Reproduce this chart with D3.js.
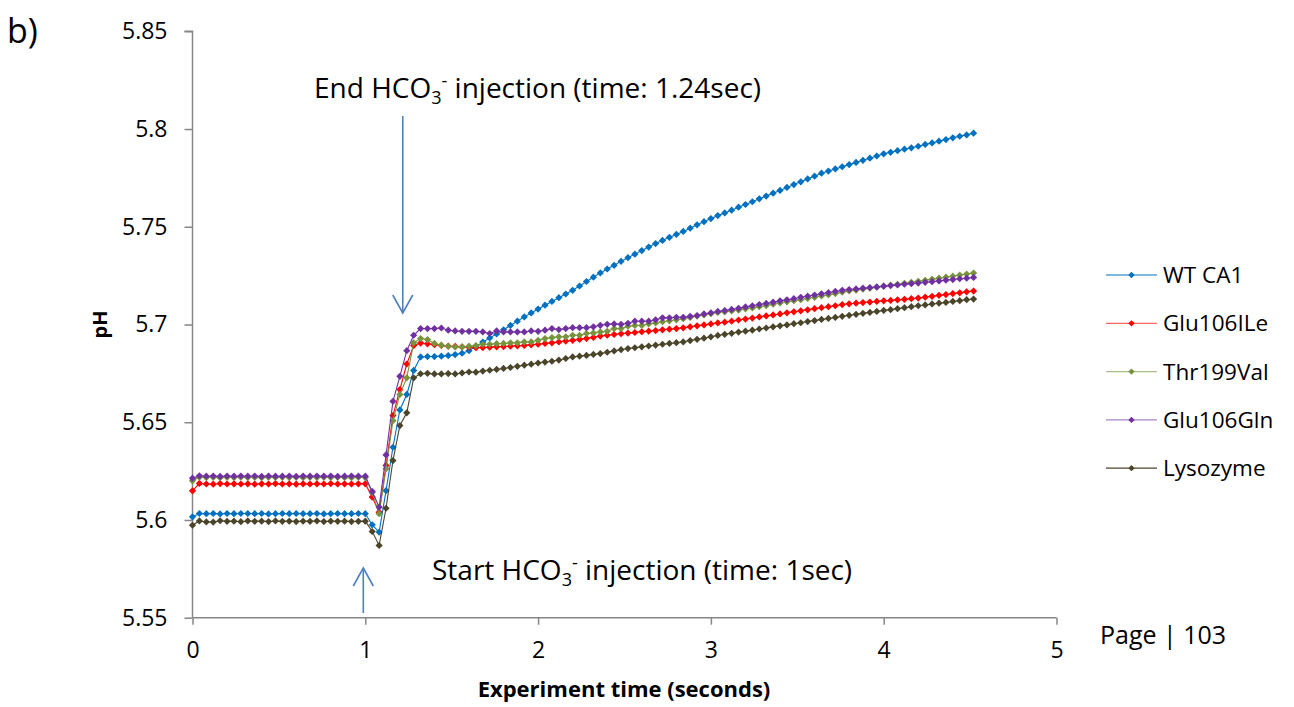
<!DOCTYPE html>
<html>
<head>
<meta charset="utf-8">
<script src="https://cdn.jsdelivr.net/npm/d3@7"></script>
<style>
  body { margin: 0; background: #fff; }
  svg { display: block; font-family: "Open Sans", Lato, sans-serif; }
</style>
</head>
<body>
<svg id="chart" width="1294" height="707"></svg>
<script>
// Experiment time (s), one reading every 0.04 s
const times = [
  0, 0.04, 0.08, 0.12, 0.16, 0.2, 0.24, 0.28, 0.32, 0.36, 0.4, 0.44, 0.48, 0.52, 0.56, 0.6, 0.64, 0.68, 0.72, 0.76, 0.8, 0.84, 0.88, 0.92, 0.96, 1,
  1.04, 1.08, 1.12, 1.16, 1.2, 1.24, 1.28, 1.32, 1.36, 1.4, 1.44, 1.48, 1.52, 1.56, 1.6, 1.64, 1.68, 1.72, 1.76, 1.8, 1.84, 1.88, 1.92, 1.96, 2,
  2.04, 2.08, 2.12, 2.16, 2.2, 2.24, 2.28, 2.32, 2.36, 2.4, 2.44, 2.48, 2.52, 2.56, 2.6, 2.64, 2.68, 2.72, 2.76, 2.8, 2.84, 2.88, 2.92, 2.96, 3,
  3.04, 3.08, 3.12, 3.16, 3.2, 3.24, 3.28, 3.32, 3.36, 3.4, 3.44, 3.48, 3.52, 3.56, 3.6, 3.64, 3.68, 3.72, 3.76, 3.8, 3.84, 3.88, 3.92, 3.96, 4,
  4.04, 4.08, 4.12, 4.16, 4.2, 4.24, 4.28, 4.32, 4.36, 4.4, 4.44, 4.48, 4.52
];

const wtCA1 = [
  5.6016, 5.6033, 5.6032, 5.6033, 5.6031, 5.6033, 5.6032, 5.6033, 5.6033, 5.6032, 5.6033, 5.6031, 5.6032, 5.6033, 5.6032, 5.6033, 5.6032, 5.6032, 5.6033, 5.6031, 5.6032, 5.6033, 5.6032, 5.6032, 5.6033, 5.6032,
  5.5975, 5.5938, 5.6150, 5.6372, 5.6563, 5.6642, 5.6765, 5.6834, 5.6836, 5.6836, 5.6838, 5.6841, 5.6846, 5.6853, 5.6866, 5.6888, 5.6910, 5.6931, 5.6952, 5.6973, 5.6995, 5.7017, 5.7039, 5.7059, 5.7079,
  5.7099, 5.7118, 5.7137, 5.7156, 5.7175, 5.7197, 5.7220, 5.7242, 5.7264, 5.7284, 5.7303, 5.7323, 5.7342, 5.7360, 5.7378, 5.7396, 5.7414, 5.7430, 5.7446, 5.7461, 5.7476, 5.7493, 5.7510, 5.7526, 5.7542,
  5.7557, 5.7571, 5.7585, 5.7600, 5.7614, 5.7628, 5.7643, 5.7657, 5.7672, 5.7686, 5.7701, 5.7716, 5.7730, 5.7745, 5.7759, 5.7774, 5.7785, 5.7796, 5.7807, 5.7818, 5.7829, 5.7840, 5.7851, 5.7862, 5.7873,
  5.7881, 5.7889, 5.7897, 5.7904, 5.7912, 5.7921, 5.7929, 5.7938, 5.7946, 5.7955, 5.7963, 5.7970, 5.7979
];

const glu106ILe = [
  5.6149, 5.6187, 5.6184, 5.6183, 5.6186, 5.6184, 5.6185, 5.6184, 5.6185, 5.6183, 5.6185, 5.6184, 5.6186, 5.6184, 5.6185, 5.6183, 5.6185, 5.6184, 5.6185, 5.6184, 5.6186, 5.6184, 5.6185, 5.6184, 5.6185, 5.6185,
  5.6117, 5.6040, 5.6279, 5.6534, 5.6667, 5.6798, 5.6892, 5.6905, 5.6901, 5.6897, 5.6893, 5.6889, 5.6888, 5.6885, 5.6884, 5.6881, 5.6882, 5.6884, 5.6886, 5.6887, 5.6889, 5.6891, 5.6893, 5.6896, 5.6899,
  5.6903, 5.6906, 5.6911, 5.6915, 5.6919, 5.6924, 5.6929, 5.6934, 5.6941, 5.6945, 5.6949, 5.6953, 5.6956, 5.6959, 5.6963, 5.6966, 5.6969, 5.6973, 5.6976, 5.6979, 5.6983, 5.6988, 5.6993, 5.6998, 5.7003,
  5.7008, 5.7012, 5.7017, 5.7023, 5.7028, 5.7033, 5.7039, 5.7044, 5.7049, 5.7054, 5.7060, 5.7065, 5.7070, 5.7075, 5.7081, 5.7086, 5.7091, 5.7096, 5.7102, 5.7106, 5.7109, 5.7112, 5.7115, 5.7118, 5.7121,
  5.7123, 5.7126, 5.7129, 5.7132, 5.7135, 5.7140, 5.7144, 5.7149, 5.7153, 5.7158, 5.7162, 5.7167, 5.7171
];

const thr199Val = [
  5.6200, 5.6219, 5.6217, 5.6218, 5.6216, 5.6218, 5.6217, 5.6219, 5.6217, 5.6218, 5.6216, 5.6218, 5.6217, 5.6218, 5.6217, 5.6218, 5.6216, 5.6218, 5.6217, 5.6218, 5.6217, 5.6218, 5.6217, 5.6216, 5.6218, 5.6217,
  5.6140, 5.6032, 5.6262, 5.6508, 5.6642, 5.6727, 5.6906, 5.6928, 5.6923, 5.6903, 5.6894, 5.6889, 5.6885, 5.6885, 5.6889, 5.6892, 5.6899, 5.6899, 5.6902, 5.6903, 5.6906, 5.6906, 5.6911, 5.6911, 5.6919,
  5.6928, 5.6933, 5.6937, 5.6937, 5.6945, 5.6945, 5.6954, 5.6957, 5.6962, 5.6965, 5.6979, 5.6979, 5.6991, 5.6995, 5.6995, 5.7003, 5.7008, 5.7014, 5.7019, 5.7024, 5.7030, 5.7036, 5.7043, 5.7049, 5.7055,
  5.7062, 5.7065, 5.7069, 5.7074, 5.7080, 5.7085, 5.7091, 5.7097, 5.7104, 5.7110, 5.7116, 5.7122, 5.7127, 5.7133, 5.7139, 5.7146, 5.7152, 5.7158, 5.7165, 5.7172, 5.7176, 5.7181, 5.7186, 5.7191, 5.7196,
  5.7201, 5.7206, 5.7211, 5.7216, 5.7221, 5.7226, 5.7232, 5.7237, 5.7242, 5.7247, 5.7253, 5.7258, 5.7263
];

const glu106Gln = [
  5.6214, 5.6226, 5.6224, 5.6225, 5.6223, 5.6225, 5.6224, 5.6225, 5.6224, 5.6225, 5.6223, 5.6225, 5.6224, 5.6224, 5.6225, 5.6223, 5.6225, 5.6224, 5.6225, 5.6224, 5.6225, 5.6223, 5.6224, 5.6225, 5.6224, 5.6224,
  5.6146, 5.6066, 5.6333, 5.6607, 5.6735, 5.6866, 5.6945, 5.6979, 5.6979, 5.6979, 5.6982, 5.6971, 5.6967, 5.6965, 5.6965, 5.6965, 5.6962, 5.6954, 5.6967, 5.6962, 5.6962, 5.6962, 5.6962, 5.6967, 5.6965,
  5.6971, 5.6979, 5.6974, 5.6979, 5.6984, 5.6984, 5.6984, 5.6988, 5.6996, 5.7001, 5.7003, 5.7001, 5.7006, 5.7017, 5.7017, 5.7017, 5.7024, 5.7034, 5.7034, 5.7037, 5.7037, 5.7042, 5.7046, 5.7054, 5.7060,
  5.7067, 5.7071, 5.7077, 5.7083, 5.7090, 5.7096, 5.7102, 5.7108, 5.7114, 5.7121, 5.7126, 5.7132, 5.7139, 5.7145, 5.7151, 5.7157, 5.7163, 5.7169, 5.7175, 5.7179, 5.7182, 5.7186, 5.7189, 5.7192, 5.7196,
  5.7199, 5.7202, 5.7206, 5.7209, 5.7212, 5.7216, 5.7219, 5.7223, 5.7227, 5.7230, 5.7234, 5.7237, 5.7241
];

const lysozyme = [
  5.5973, 5.5995, 5.5990, 5.5989, 5.5996, 5.5993, 5.5994, 5.5991, 5.5995, 5.5993, 5.5994, 5.5992, 5.5995, 5.5993, 5.5994, 5.5992, 5.5994, 5.5993, 5.5995, 5.5992, 5.5994, 5.5993, 5.5994, 5.5992, 5.5993, 5.5994,
  5.5941, 5.5870, 5.6060, 5.6304, 5.6483, 5.6548, 5.6727, 5.6748, 5.6750, 5.6747, 5.6747, 5.6749, 5.6747, 5.6752, 5.6757, 5.6756, 5.6762, 5.6766, 5.6770, 5.6775, 5.6780, 5.6786, 5.6792, 5.6797, 5.6803,
  5.6808, 5.6812, 5.6818, 5.6826, 5.6834, 5.6838, 5.6842, 5.6847, 5.6851, 5.6858, 5.6865, 5.6871, 5.6877, 5.6881, 5.6886, 5.6890, 5.6894, 5.6899, 5.6903, 5.6907, 5.6911, 5.6918, 5.6924, 5.6930, 5.6937,
  5.6944, 5.6950, 5.6955, 5.6961, 5.6966, 5.6971, 5.6977, 5.6982, 5.6988, 5.6993, 5.6998, 5.7004, 5.7009, 5.7015, 5.7020, 5.7026, 5.7031, 5.7036, 5.7042, 5.7047, 5.7052, 5.7057, 5.7062, 5.7067, 5.7072,
  5.7076, 5.7081, 5.7086, 5.7091, 5.7096, 5.7100, 5.7105, 5.7109, 5.7113, 5.7118, 5.7122, 5.7127, 5.7130
];

const seriesNames = ['WT CA1', 'Glu106ILe', 'Thr199Val', 'Glu106Gln', 'Lysozyme'];
const seriesValues = [wtCA1, glu106ILe, thr199Val, glu106Gln, lysozyme];
const seriesColors = ['#0070C0', '#FF0000', '#77933C', '#7030A0', '#4A452A'];

const xTicks = [0, 1, 2, 3, 4, 5];
const yTicks = [5.55, 5.6, 5.65, 5.7, 5.75, 5.8, 5.85];

// injection times (s)
const startInjection = 1;
const endInjection = 1.24;

const svg = d3.select('#chart');
const axisGrey = '#868686';

const x = d3.scaleLinear().domain([0, 5]).range([192.5, 1056.5]);
const y = d3.scaleLinear().domain([5.55, 5.85]).range([617.7, 31.3]);

// Axes
const yAxis = svg.append('g')
  .attr('transform', `translate(${x(0)},0)`)
  .call(d3.axisLeft(y).tickValues(yTicks).tickFormat(d => String(d)).tickSize(8).tickPadding(17));
const xAxis = svg.append('g')
  .attr('transform', `translate(0,${y(5.55)})`)
  .call(d3.axisBottom(x).tickValues(xTicks).tickFormat(d => String(d)).tickSize(7).tickPadding(17));

[yAxis, xAxis].forEach(g => {
  g.select('.domain').attr('stroke', axisGrey).attr('stroke-width', 1.5);
  g.selectAll('.tick line').attr('stroke', axisGrey).attr('stroke-width', 1.5);
  g.selectAll('.tick text').attr('fill', '#000').attr('font-size', 23).attr('font-family', '"Open Sans", sans-serif');
});
yAxis.select('.domain').attr('d', `M-8,${y(5.85)}H0V${y(5.55)}`);
xAxis.select('.domain').attr('d', `M${x(0)},0H${x(5)}`);

// Axis titles
svg.append('text')
  .attr('transform', `translate(107,${y(5.7)}) rotate(-90)`)
  .attr('text-anchor', 'middle')
  .attr('font-size', 20).attr('font-weight', 'bold')
  .text('pH');
svg.append('text')
  .attr('x', 624).attr('y', 697)
  .attr('text-anchor', 'middle')
  .attr('font-size', 22).attr('font-weight', 'bold')
  .text('Experiment time (seconds)');

svg.append('text').attr('x', 7).attr('y', 43).attr('font-size', 34).text('b)');
svg.append('text').attr('x', 1100).attr('y', 644).attr('font-size', 25).text('Page | 103');

// Series lines and diamond markers
const line = d3.line().x((d, i) => x(times[i])).y(d => y(d));
const diamond = d3.symbol().type(d3.symbolSquare).size(26);

seriesValues.forEach((values, s) => {
  const g = svg.append('g');
  g.append('path')
    .datum(values)
    .attr('d', line)
    .attr('fill', 'none')
    .attr('stroke', seriesColors[s])
    .attr('stroke-width', 1.1);
  g.selectAll('path.pt')
    .data(values)
    .enter()
    .append('path')
    .attr('class', 'pt')
    .attr('d', diamond)
    .attr('transform', (d, i) => `translate(${x(times[i])},${y(d)}) rotate(45)`)
    .attr('fill', seriesColors[s]);
});

// Injection arrows
const arrowBlue = '#4F81BD';
const drawArrow = (xPos, yTail, yHead) => {
  const dir = yHead > yTail ? -1 : 1;
  svg.append('line')
    .attr('x1', xPos).attr('x2', xPos).attr('y1', yTail).attr('y2', yHead)
    .attr('stroke', arrowBlue).attr('stroke-width', 1.6);
  svg.append('path')
    .attr('d', `M${xPos - 10},${yHead + dir * 18}L${xPos},${yHead}L${xPos + 10},${yHead + dir * 18}`)
    .attr('fill', 'none').attr('stroke', arrowBlue).attr('stroke-width', 1.6);
};
drawArrow(x(endInjection) - 4, 116, 313);
drawArrow(x(startInjection) - 2, 613, 568);

// Annotation text with HCO3- formula
const annotate = (xPos, yPos, before, after) => {
  const t = svg.append('text').attr('x', xPos).attr('y', yPos).attr('font-size', 28);
  t.append('tspan').text(before + 'HCO');
  t.append('tspan').attr('font-size', 18).attr('dy', 6).text('3');
  t.append('tspan').attr('font-size', 18).attr('dy', -17).text('-');
  t.append('tspan').attr('dy', 11).text(' ' + after);
};
annotate(314, 98, 'End ', 'injection (time: 1.24sec)');
annotate(432, 580, 'Start ', 'injection (time: 1sec)');

// Legend
const legend = svg.append('g');
seriesNames.forEach((name, s) => {
  const ly = 275 + s * 48.3;
  legend.append('line')
    .attr('x1', 1106).attr('x2', 1157).attr('y1', ly).attr('y2', ly)
    .attr('stroke', seriesColors[s]).attr('stroke-width', 1.2).attr('stroke-opacity', s === 0 || s === 4 ? 1 : 0.6);
  legend.append('path')
    .attr('d', d3.symbol().type(d3.symbolSquare).size(20))
    .attr('transform', `translate(1131.5,${ly}) rotate(45)`)
    .attr('fill', seriesColors[s]);
  legend.append('text')
    .attr('x', 1163).attr('y', ly + 8)
    .attr('font-size', 22.5)
    .text(name);
});
</script>
</body>
</html>
